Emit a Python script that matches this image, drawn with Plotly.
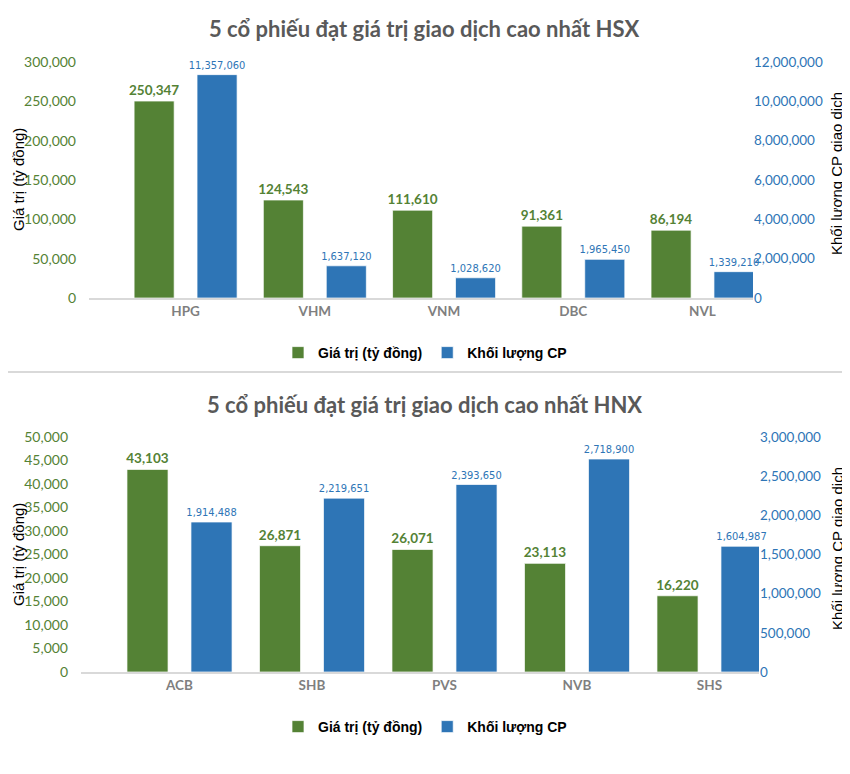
import plotly.graph_objects as go

# ---------------- data ----------------
hsx_tickers = ["HPG", "VHM", "VNM", "DBC", "NVL"]
hsx_value = [250347, 124543, 111610, 91361, 86194]          # Giá trị (tỷ đồng)
hsx_volume = [11357060, 1637120, 1028620, 1965450, 1339210]  # Khối lượng CP

hnx_tickers = ["ACB", "SHB", "PVS", "NVB", "SHS"]
hnx_value = [43103, 26871, 26071, 23113, 16220]
hnx_volume = [1914488, 2219651, 2393650, 2718900, 1604987]

series_names = ["Giá trị (tỷ đồng)", "Khối lượng CP"]
titles = ["5 cổ phiếu đạt giá trị giao dịch cao nhất HSX",
          "5 cổ phiếu đạt giá trị giao dịch cao nhất HNX"]
left_title = "Giá trị (tỷ đồng)"
right_title = "Khối lượng CP giao dịch"

# ---------------- style ----------------
GREEN = "#548235"
BLUE = "#2e75b6"
PAGE_W, PAGE_H = 850, 774
OFF = 8                      # default page body margin
W, H = PAGE_W - OFF, PAGE_H - OFF
NARROW = "Liberation Sans Narrow, Arial Narrow, DejaVu Sans Condensed, Roboto, sans-serif"
SANS = "Liberation Sans, Arial, sans-serif"
CAL = "Lato, Open Sans, sans-serif"


def px_(x):
    return (x - OFF) / W


def py(y):
    return 1 - (y - OFF) / H


fig = go.Figure()

panels = [
    dict(t=hsx_tickers, v=hsx_value, q=hsx_volume, x="x", y="y", y2="y2",
         leg="legend", xoff=(-0.398, 0.089), width=0.31),
    dict(t=hnx_tickers, v=hnx_value, q=hnx_volume, x="x2", y="y3", y2="y4",
         leg="legend2", xoff=(-0.396, 0.087), width=0.31),
]

for p in panels:
    fig.add_trace(go.Bar(
        x=p["t"], y=p["v"], name=series_names[0], xaxis=p["x"], yaxis=p["y"],
        marker=dict(color=GREEN, line=dict(color="rgba(255,255,255,0.7)", width=1)),
        width=p["width"], offset=p["xoff"][0],
        texttemplate="%{y:,}", textposition="outside", cliponaxis=False,
        constraintext="none",
        textfont=dict(family=CAL, size=13.5, color=GREEN, weight="bold"),
        legend=p["leg"], hoverinfo="skip"))
    fig.add_trace(go.Bar(
        x=p["t"], y=p["q"], name=series_names[1], xaxis=p["x"], yaxis=p["y2"],
        marker=dict(color=BLUE, line=dict(color="rgba(255,255,255,0.7)", width=1)),
        width=p["width"], offset=p["xoff"][1],
        texttemplate="%{y:,}", textposition="outside", cliponaxis=False,
        constraintext="none",
        textfont=dict(family=NARROW, size=11, color=BLUE),
        legend=p["leg"], hoverinfo="skip"))

xcommon = dict(showgrid=False, showline=True, linecolor="#d9d9d9", linewidth=1.5,
               ticks="", tickfont=dict(family=CAL, size=13.5, color="#7f7f7f", weight="bold"),
               fixedrange=True, zeroline=False, automargin=False)
ycommon = dict(showgrid=False, zeroline=False, showline=False, ticks="",
               tickformat=",", fixedrange=True, automargin=False)

fig.update_layout(
    width=W, height=H, margin=dict(l=0, r=0, t=0, b=0, autoexpand=False),
    paper_bgcolor="white", plot_bgcolor="white",
    barmode="overlay", showlegend=True,
    xaxis=dict(domain=[px_(89), px_(753)], anchor="y", range=[-0.747, 4.391], **xcommon),
    yaxis=dict(domain=[py(298), py(62)], anchor="x", range=[0, 300000], dtick=50000,
               tickfont=dict(family=CAL, size=14, color=GREEN), ticklabelstandoff=12, **ycommon),
    yaxis2=dict(overlaying="y", side="right", anchor="x", range=[0, 12000000], dtick=2000000,
                tickfont=dict(family=CAL, size=13.5, color=BLUE), ticklabelstandoff=0, **ycommon),
    xaxis2=dict(domain=[px_(81), px_(759)], anchor="y3", range=[-0.743, 4.374], **xcommon),
    yaxis3=dict(domain=[py(672), py(437)], anchor="x2", range=[0, 50000], dtick=5000,
                tickfont=dict(family=CAL, size=14, color=GREEN), ticklabelstandoff=12, **ycommon),
    yaxis4=dict(overlaying="y3", side="right", anchor="x2", range=[0, 3000000], dtick=500000,
                tickfont=dict(family=CAL, size=13.5, color=BLUE), ticklabelstandoff=0, **ycommon),
    legend=dict(orientation="h", x=px_(425), xanchor="center", y=py(353), yanchor="middle",
                font=dict(family=SANS, size=14, color="black", weight="bold"),
                itemwidth=30, traceorder="normal"),
    legend2=dict(orientation="h", x=px_(425), xanchor="center", y=py(727), yanchor="middle",
                 font=dict(family=SANS, size=14, color="black", weight="bold"),
                 itemwidth=30, traceorder="normal"),
)

# titles and axis titles
for title, ty in zip(titles, [29, 404]):
    fig.add_annotation(text=title, x=px_(424), y=py(ty), xref="paper", yref="paper",
                       showarrow=False, xanchor="center", yanchor="middle",
                       font=dict(family=CAL, size=22, color="#595959", weight="bold"))
for cy in [180, 555]:
    fig.add_annotation(text=left_title, x=px_(18), y=py(cy), xref="paper", yref="paper",
                       showarrow=False, textangle=-90, xanchor="center", yanchor="middle",
                       borderpad=0, font=dict(family=SANS, size=15, color="black"))
    fig.add_annotation(text=right_title, x=px_(837), y=py(cy - 6), xref="paper", yref="paper",
                       showarrow=False, textangle=-90, xanchor="center", yanchor="middle",
                       font=dict(family=SANS, size=15, color="black"))

# separator between the two charts
fig.add_shape(type="line", xref="paper", yref="paper", x0=0, x1=1, y0=py(372), y1=py(372),
              line=dict(color="#d9d9d9", width=2))

fig.write_html("out.html")
